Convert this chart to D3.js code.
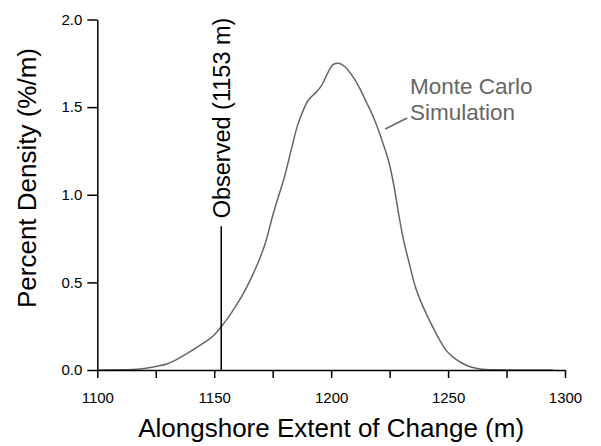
<!DOCTYPE html>
<html>
<head>
<meta charset="utf-8">
<script src="https://cdn.jsdelivr.net/npm/d3@7"></script>
<style>
  body { margin: 0; background: #fff; }
  svg { display: block; font-family: "Liberation Sans", Arial, sans-serif; }
</style>
</head>
<body>
<svg id="chart" width="601" height="446"></svg>
<script>
// density curve (extent in m, percent density in %/m)
const extent_m = [1100, 1110, 1115, 1120, 1125, 1130, 1135, 1140, 1145, 1150, 1153, 1156, 1159, 1163, 1166, 1169, 1172, 1175, 1177, 1180, 1183, 1185.5, 1188, 1190, 1192, 1194, 1196, 1198, 1199.5, 1201, 1203, 1205, 1207, 1210, 1212.5, 1215, 1218, 1222, 1225, 1227, 1229, 1231, 1233, 1236, 1239, 1242, 1246, 1249, 1252, 1255, 1258, 1262, 1266, 1270, 1280, 1295]
const density = [0, 0.001, 0.003, 0.008, 0.02, 0.036, 0.068, 0.108, 0.15, 0.2, 0.247, 0.3, 0.36, 0.45, 0.53, 0.62, 0.73, 0.88, 0.97, 1.1, 1.26, 1.39, 1.48, 1.535, 1.565, 1.59, 1.625, 1.68, 1.72, 1.745, 1.75, 1.74, 1.715, 1.66, 1.6, 1.53, 1.445, 1.3, 1.17, 1.04, 0.88, 0.74, 0.63, 0.475, 0.37, 0.285, 0.18, 0.115, 0.075, 0.047, 0.026, 0.01, 0.003, 0.001, 0, 0]

const x_ticks = [1100, 1125, 1150, 1175, 1200, 1225, 1250, 1275, 1300]
const x_labels = [1100, 1150, 1200, 1250, 1300]
const y_ticks = [0, 0.5, 1.0, 1.5, 2.0]

const observed = 1153
const observed_top = 0.82
const observed_label = "Observed (1153 m)"
const sim_label = ["Monte Carlo", "Simulation"]
// leader from curve to label, and label anchor, in data units
const leader = [[1223.1, 1.375], [1232.5, 1.438]]
const label_at = [1233.7, 1.575, 1.427]

const margin = {top: 19.5, right: 36, bottom: 76, left: 97.3}
const width = 601, height = 446

function make_scales() {
  return {
    x: d3.scaleLinear().domain([1100, 1300]).range([margin.left, width - margin.right]),
    y: d3.scaleLinear().domain([0, 2]).range([height - margin.bottom, margin.top])
  }
}

function draw_axes(svg, scales) {
  let x_axis = d3.axisBottom(scales.x)
    .tickValues(x_ticks)
    .tickSize(8)
    .tickSizeOuter(0)
    .tickPadding(14)
    .tickFormat(d => x_labels.includes(d) ? d : "")
  let gx = svg.append("g")
    .attr("transform", `translate(0, ${scales.y(0)})`)
    .call(x_axis)
  gx.selectAll("text").attr("font-size", 15).attr("font-family", null).attr("fill", "#000")

  let y_axis = d3.axisLeft(scales.y)
    .tickValues(y_ticks)
    .tickSize(10)
    .tickSizeOuter(0)
    .tickPadding(5)
    .tickFormat(d3.format(".1f"))
  let gy = svg.append("g")
    .attr("transform", `translate(${scales.x(1100)}, 0)`)
    .call(y_axis)
  gy.selectAll("text").attr("font-size", 15).attr("font-family", null).attr("fill", "#000")

  svg.selectAll(".domain, .tick line").attr("stroke", "#000").attr("stroke-width", 1.5)

  svg.append("text")
    .attr("x", (scales.x(1100) + scales.x(1300)) / 2)
    .attr("y", 437)
    .attr("text-anchor", "middle")
    .attr("font-size", 26)
    .text("Alongshore Extent of Change (m)")

  svg.append("text")
    .attr("transform", `translate(36, 178) rotate(-90)`)
    .attr("text-anchor", "middle")
    .attr("font-size", 26)
    .text("Percent Density (%/m)")
}

function draw_curve(svg, scales) {
  let pts = extent_m.map((e, i) => [e, density[i]])
  let path_generator = d3.line()
    .x(d => scales.x(d[0]))
    .y(d => scales.y(d[1]))
    .curve(d3.curveMonotoneX)

  svg.append("path")
    .datum(pts)
    .attr("d", path_generator)
    .attr("fill", "none")
    .attr("stroke", "#666")
    .attr("stroke-width", 1.5)

  svg.append("line")
    .attr("x1", scales.x(leader[0][0])).attr("y1", scales.y(leader[0][1]))
    .attr("x2", scales.x(leader[1][0])).attr("y2", scales.y(leader[1][1]))
    .attr("stroke", "#666")
    .attr("stroke-width", 1.5)

  svg.append("g")
    .selectAll("text")
    .data(sim_label).enter()
    .append("text")
    .attr("x", scales.x(label_at[0]))
    .attr("y", (d, i) => scales.y(label_at[i + 1]))
    .attr("font-size", 22.5)
    .attr("fill", "#666")
    .text(d => d)
}

function draw_observed(svg, scales) {
  let x = scales.x(observed)
  svg.append("line")
    .attr("x1", x).attr("x2", x)
    .attr("y1", scales.y(0)).attr("y2", scales.y(observed_top))
    .attr("stroke", "#000")
    .attr("stroke-width", 1.5)

  svg.append("text")
    .attr("transform", `translate(${x + 8.5}, ${scales.y(observed_top) - 8}) rotate(-90)`)
    .attr("font-size", 23.5)
    .text(observed_label)
}

let svg = d3.select("#chart")
let scales = make_scales()
draw_curve(svg, scales)
draw_observed(svg, scales)
draw_axes(svg, scales)
</script>
</body>
</html>
